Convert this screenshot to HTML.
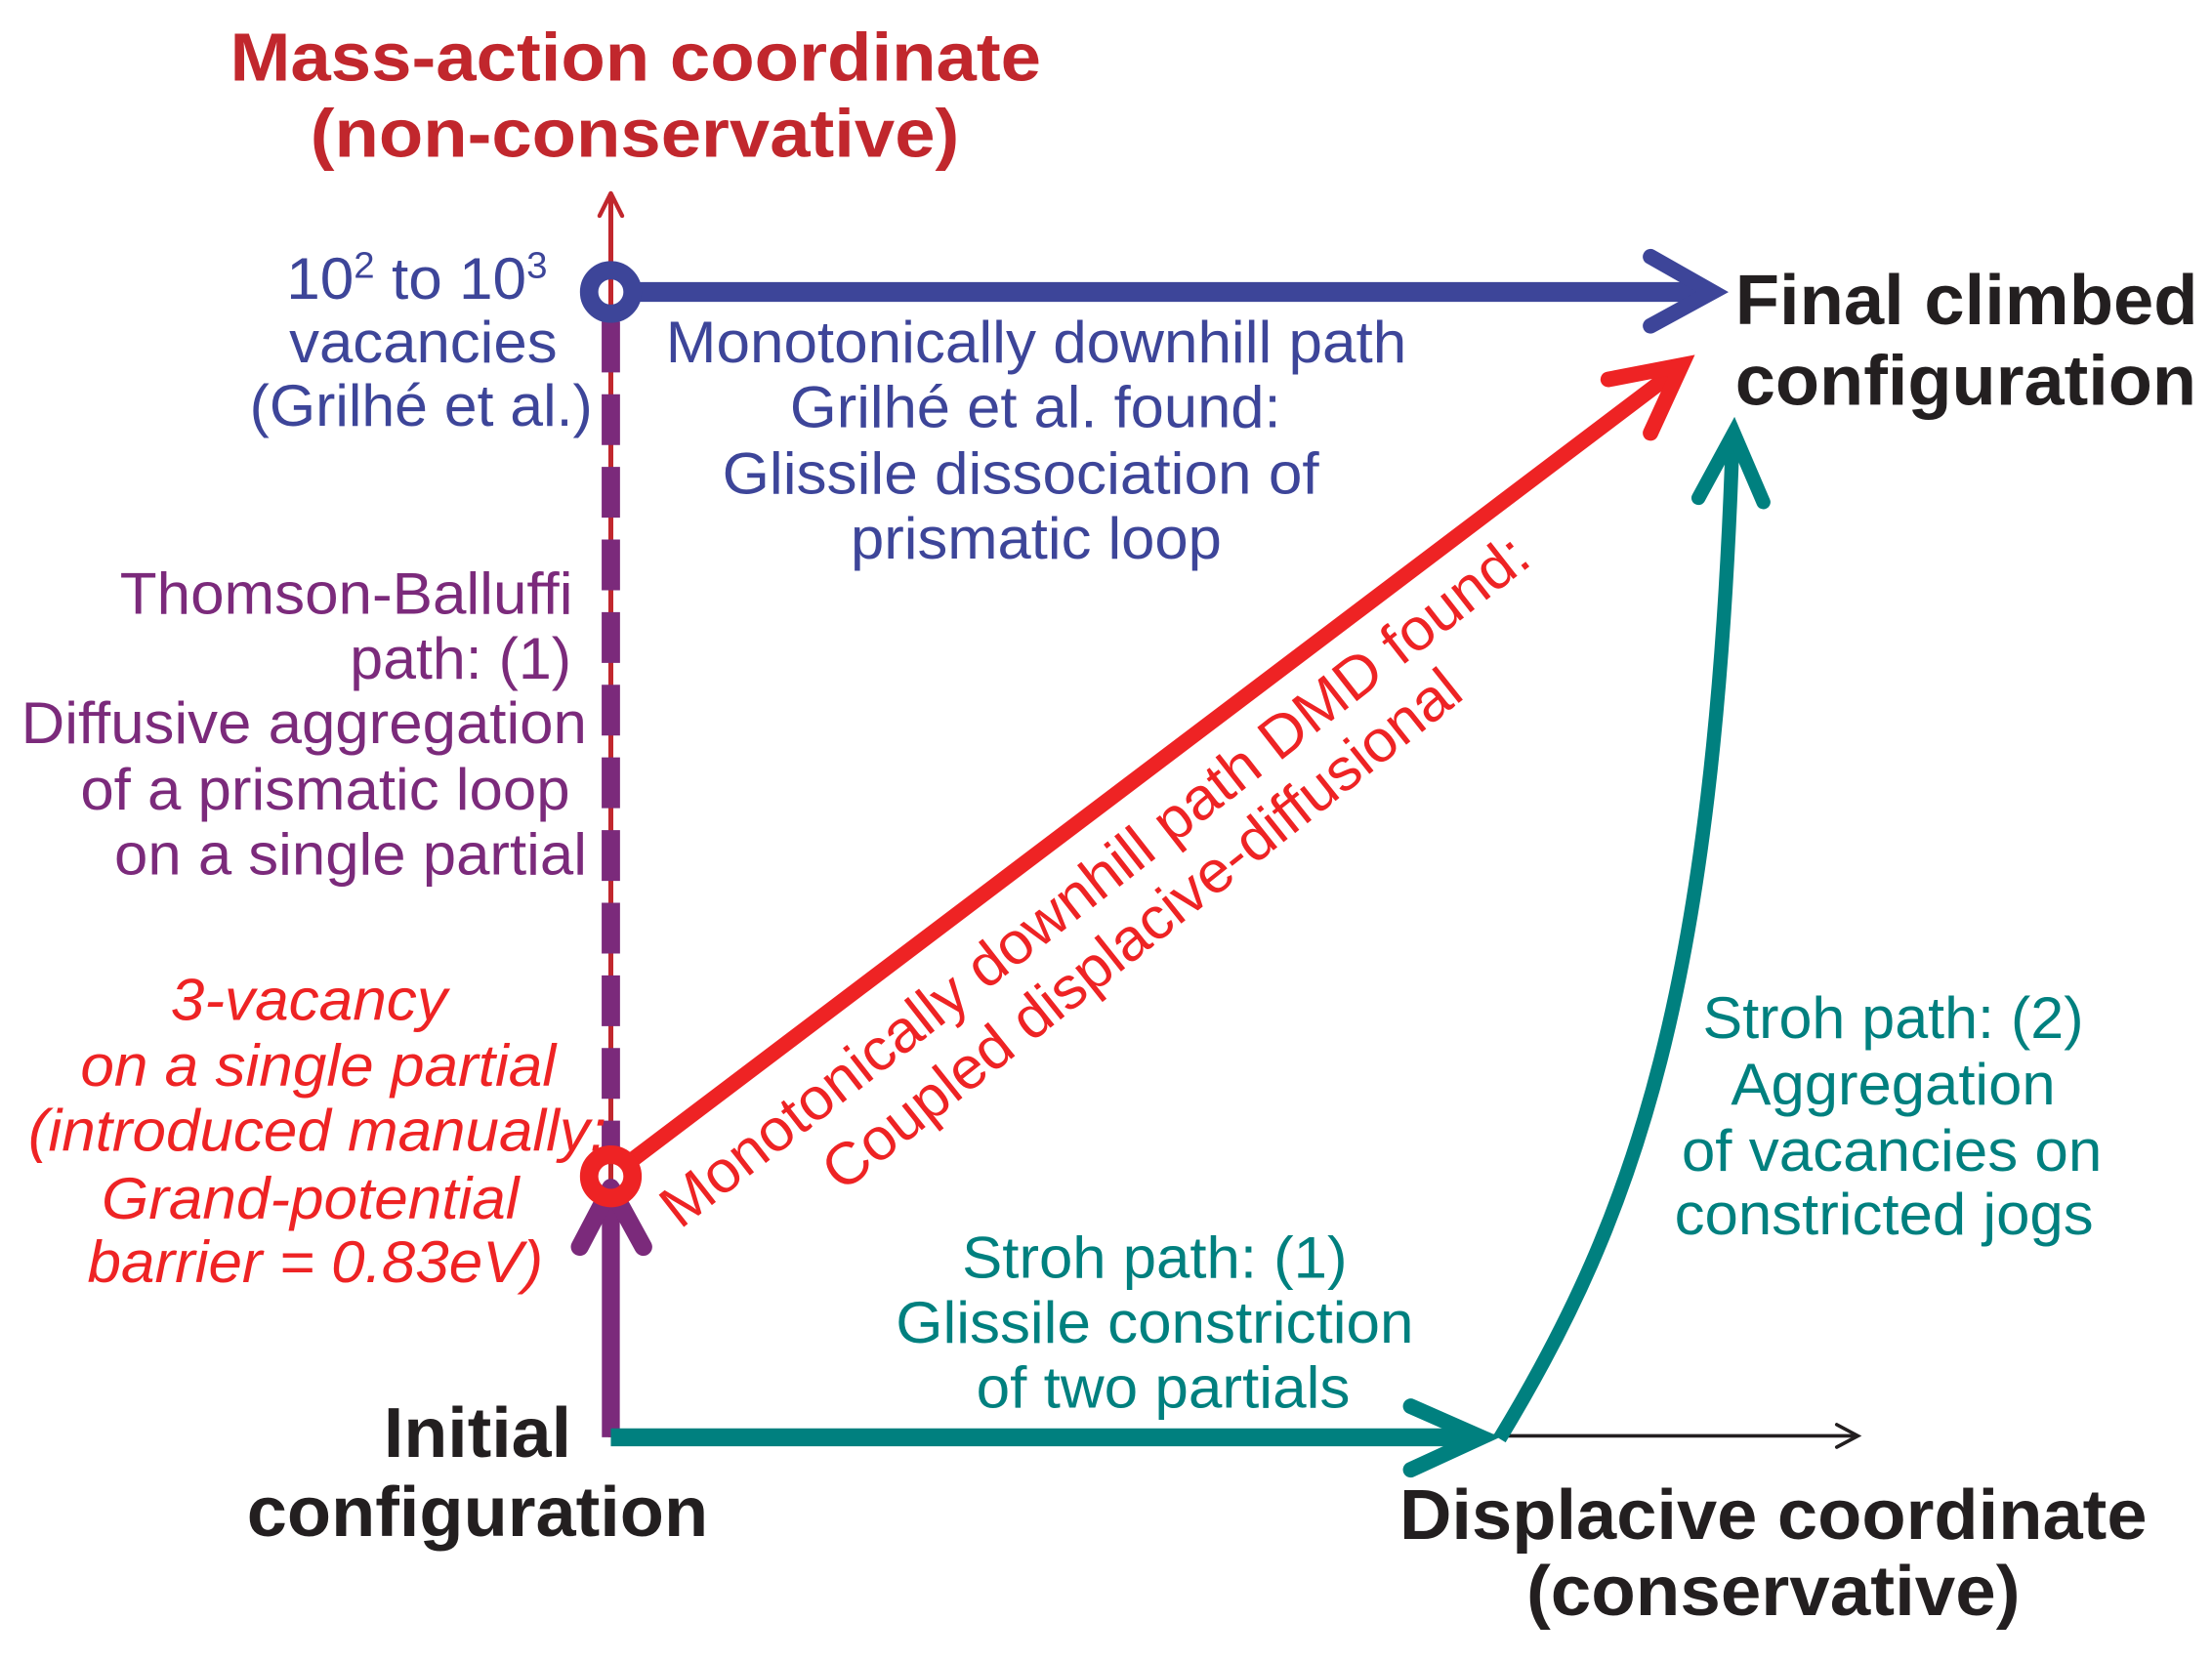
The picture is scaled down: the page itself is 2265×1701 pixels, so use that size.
<!DOCTYPE html>
<html><head><meta charset="utf-8"><style>
html,body{margin:0;padding:0;background:#fff;}
svg{display:block;}
text{font-family:"Liberation Sans",sans-serif;}
</style></head><body>
<svg width="2265" height="1701" viewBox="0 0 1568 1177.6" preserveAspectRatio="none" xmlns="http://www.w3.org/2000/svg">
<rect width="1568" height="1178" fill="#fff"/>
<g font-weight="bold" fill="#c1272d" font-size="48">
<text x="163" y="57" textLength="575" lengthAdjust="spacingAndGlyphs">Mass-action coordinate</text>
<text x="220" y="111" textLength="460" lengthAdjust="spacingAndGlyphs">(non-conservative)</text>
</g>
<line x1="433" y1="137" x2="433" y2="1019" stroke="#c1272d" stroke-width="3.5"/>
<polyline points="425,153 433,137 441,153" fill="none" stroke="#c1272d" stroke-width="3" stroke-linecap="round" stroke-linejoin="round"/>
<line x1="433" y1="228" x2="433" y2="822" stroke="#7b2a7b" stroke-width="13" stroke-dasharray="36 15.5"/>
<line x1="433" y1="840" x2="433" y2="1019" stroke="#7b2a7b" stroke-width="12.7"/>
<polyline points="411,884 433,842 456,884" fill="none" stroke="#7b2a7b" stroke-width="12.7" stroke-linecap="round" stroke-linejoin="round"/>
<line x1="448" y1="207" x2="1212" y2="207" stroke="#3d4599" stroke-width="14"/>
<polyline points="1170,182 1214,207 1170,231" fill="none" stroke="#3d4599" stroke-width="11" stroke-linecap="round" stroke-linejoin="miter"/>
<circle cx="433" cy="207" r="15.4" fill="none" stroke="#3d4599" stroke-width="13"/>
<line x1="1050" y1="1018" x2="1316" y2="1018" stroke="#231f20" stroke-width="2.5"/>
<polyline points="1302,1010 1317,1018 1302,1026" fill="none" stroke="#231f20" stroke-width="2.5" stroke-linecap="round"/>
<line x1="433" y1="1019" x2="1046" y2="1019" stroke="#00807f" stroke-width="12.7"/>
<polyline points="1000,997 1050,1019 1000,1042" fill="none" stroke="#00807f" stroke-width="11" stroke-linecap="round"/>
<path d="M1063,1020 C1160,860 1215,700 1228,315" fill="none" stroke="#00807f" stroke-width="10"/>
<polyline points="1204,353 1229,307 1250,356" fill="none" stroke="#00807f" stroke-width="10" stroke-linecap="round"/>
<line x1="446" y1="824" x2="1185" y2="265" stroke="#ee2324" stroke-width="11"/>
<polyline points="1140,269 1192,259 1170,307" fill="none" stroke="#ee2324" stroke-width="11" stroke-linecap="round"/>
<circle cx="433" cy="834" r="15.4" fill="none" stroke="#ee2324" stroke-width="13"/>
<g fill="#3d4599" font-size="42">
<text x="203" y="212" textLength="185" lengthAdjust="spacingAndGlyphs">10<tspan font-size="26" dy="-15">2</tspan><tspan dy="15"> to 10</tspan><tspan font-size="26" dy="-15">3</tspan></text>
<text x="205" y="257" textLength="190" lengthAdjust="spacingAndGlyphs">vacancies</text>
<text x="177" y="302" textLength="243" lengthAdjust="spacingAndGlyphs">(Grilhé et al.)</text>
<text x="472" y="257" textLength="525" lengthAdjust="spacingAndGlyphs">Monotonically downhill path</text>
<text x="560" y="303" textLength="348" lengthAdjust="spacingAndGlyphs">Grilhé et al. found:</text>
<text x="512" y="350" textLength="423" lengthAdjust="spacingAndGlyphs">Glissile dissociation of</text>
<text x="603" y="396" textLength="263" lengthAdjust="spacingAndGlyphs">prismatic loop</text>
</g>
<g fill="#7b2a7b" font-size="42">
<text x="85" y="435" textLength="321" lengthAdjust="spacingAndGlyphs">Thomson-Balluffi</text>
<text x="248" y="481" textLength="157" lengthAdjust="spacingAndGlyphs">path: (1)</text>
<text x="15" y="527" textLength="401" lengthAdjust="spacingAndGlyphs">Diffusive aggregation</text>
<text x="57" y="574" textLength="347" lengthAdjust="spacingAndGlyphs">of a prismatic loop</text>
<text x="81" y="620" textLength="335" lengthAdjust="spacingAndGlyphs">on a single partial</text>
</g>
<g fill="#ee2324" font-size="42" font-style="italic">
<text x="121" y="723" textLength="196" lengthAdjust="spacingAndGlyphs">3-vacancy</text>
<text x="57" y="770" textLength="337" lengthAdjust="spacingAndGlyphs">on a single partial</text>
<text x="20" y="816" textLength="410" lengthAdjust="spacingAndGlyphs">(introduced manually:</text>
<text x="72" y="864" textLength="296" lengthAdjust="spacingAndGlyphs">Grand-potential</text>
<text x="62" y="909" textLength="323" lengthAdjust="spacingAndGlyphs">barrier = 0.83eV)</text>
</g>
<g fill="#ee2324" font-size="42">
<text transform="translate(482,872) rotate(-38)" x="0" y="0" textLength="768" lengthAdjust="spacingAndGlyphs">Monotonically downhill path DMD found:</text>
<text transform="translate(597,846) rotate(-38.5)" x="0" y="0" textLength="565" lengthAdjust="spacingAndGlyphs">Coupled displacive-diffusional</text>
</g>
<g fill="#00807f" font-size="42">
<text x="682" y="906" textLength="273" lengthAdjust="spacingAndGlyphs">Stroh path: (1)</text>
<text x="635" y="952" textLength="367" lengthAdjust="spacingAndGlyphs">Glissile constriction</text>
<text x="692" y="998" textLength="265" lengthAdjust="spacingAndGlyphs">of two partials</text>
<text x="1207" y="736" textLength="270" lengthAdjust="spacingAndGlyphs">Stroh path: (2)</text>
<text x="1227" y="783" textLength="230" lengthAdjust="spacingAndGlyphs">Aggregation</text>
<text x="1192" y="830" textLength="298" lengthAdjust="spacingAndGlyphs">of vacancies on</text>
<text x="1187" y="875" textLength="297" lengthAdjust="spacingAndGlyphs">constricted jogs</text>
</g>
<g fill="#231f20" font-size="50" font-weight="bold">
<text x="1230" y="230" textLength="328" lengthAdjust="spacingAndGlyphs">Final climbed</text>
<text x="1230" y="287" textLength="327" lengthAdjust="spacingAndGlyphs">configuration</text>
<text x="272" y="1033" textLength="133" lengthAdjust="spacingAndGlyphs">Initial</text>
<text x="175" y="1089" textLength="327" lengthAdjust="spacingAndGlyphs">configuration</text>
<text x="992" y="1091" textLength="530" lengthAdjust="spacingAndGlyphs">Displacive coordinate</text>
<text x="1082" y="1145" textLength="350" lengthAdjust="spacingAndGlyphs">(conservative)</text>
</g>
</svg>
</body></html>
